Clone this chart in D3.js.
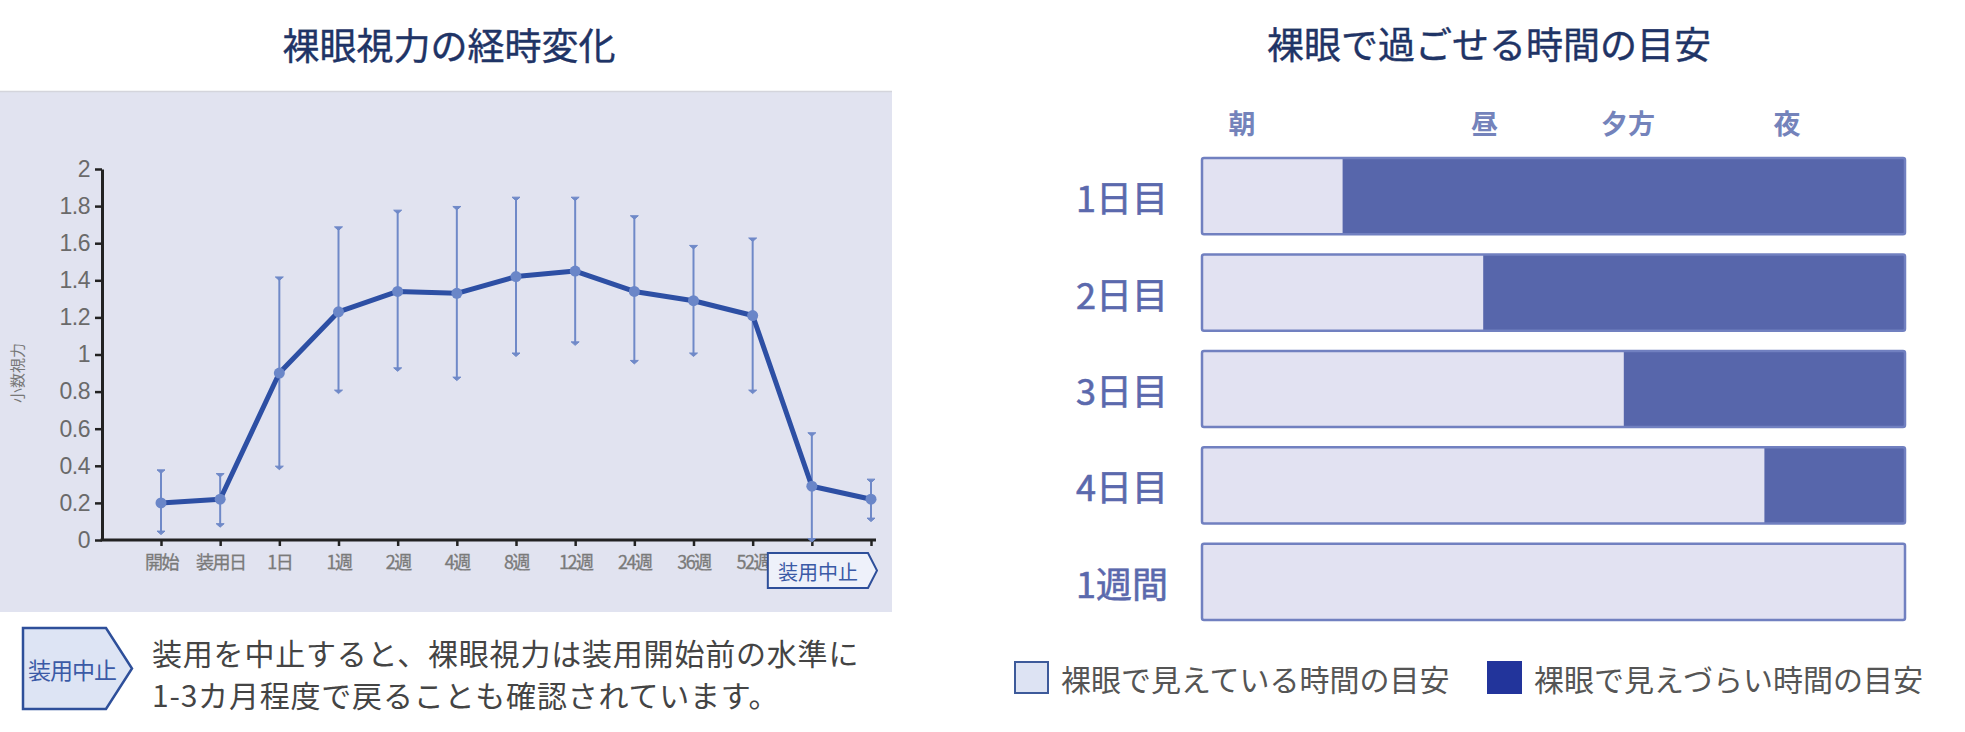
<!DOCTYPE html>
<html lang="ja">
<head>
<meta charset="utf-8">
<script src="https://cdn.jsdelivr.net/npm/d3@7"></script>
<style>
  body { margin: 0; background: #fff; }
  svg text { font-family: "Noto Sans CJK JP", "Noto Sans", sans-serif; }
</style>
</head>
<body>
<svg id="chart" width="1965" height="732"></svg>
<script>
// Left chart: uncorrected visual acuity over time (mean with range bars)
const vaCategories = ["開始", "装用日", "1日", "1週", "2週", "4週", "8週", "12週", "24週", "36週", "52週", "中止1", "中止2"];
const vaTickLabels = ["開始", "装用日", "1日", "1週", "2週", "4週", "8週", "12週", "24週", "36週", "52週", "", ""];
const vaMean  = [0.20, 0.22, 0.90, 1.23, 1.34, 1.33, 1.42, 1.45, 1.34, 1.29, 1.21, 0.29, 0.22];
const vaUpper = [0.37, 0.35, 1.41, 1.68, 1.77, 1.79, 1.84, 1.84, 1.74, 1.58, 1.62, 0.57, 0.32];
const vaLower = [0.04, 0.08, 0.39, 0.80, 0.92, 0.87, 1.00, 1.06, 0.96, 1.00, 0.80, 0.00, 0.11];
const vaYTicks = [0, 0.2, 0.4, 0.6, 0.8, 1, 1.2, 1.4, 1.6, 1.8, 2];
const stopLabel = "装用中止";
const noteLines = ["装用を中止すると、裸眼視力は装用開始前の水準に", "1-3カ月程度で戻ることも確認されています。"];

// Right chart: time you can spend with the naked eye
const dayLabels = ["1日目", "2日目", "3日目", "4日目", "1週間"];
const visibleShare = [0.2, 0.4, 0.6, 0.8, 1.0];
const timeLabels = ["朝", "昼", "夕方", "夜"];
const timeAt = [0.057, 0.402, 0.606, 0.832];
const legendLabels = ["裸眼で見えている時間の目安", "裸眼で見えづらい時間の目安"];

const svg = d3.select("#chart");

// ---------- left chart ----------
svg.append("text")
    .attr("x", 449).attr("y", 44)
    .attr("text-anchor", "middle").attr("dominant-baseline", "central")
    .attr("font-size", 37)
    .attr("fill", "#1f3466").attr("stroke", "#1f3466").attr("stroke-width", 0.4)
    .text("裸眼視力の経時変化");

svg.append("rect")
    .attr("x", 0).attr("y", 91)
    .attr("width", 892).attr("height", 521)
    .attr("fill", "#e1e3f0");
svg.append("line")
    .attr("x1", 0).attr("x2", 892).attr("y1", 91.5).attr("y2", 91.5)
    .attr("stroke", "#d4d5dc").attr("stroke-width", 1.5);

const x = d3.scalePoint()
    .domain(vaCategories)
    .range([161, 871]);

const y = d3.scaleLinear()
    .domain([0, 2])
    .range([540, 169]);

// Y axis
const yAxis = svg.append("g")
    .attr("transform", "translate(102,0)")
    .call(d3.axisLeft(y).tickValues(vaYTicks).tickSize(7).tickSizeOuter(0).tickPadding(5).tickFormat(d3.format("~g")));
yAxis.select(".domain").attr("stroke", "#222").attr("stroke-width", 3);
yAxis.selectAll(".tick line").attr("stroke", "#222").attr("stroke-width", 2.5);
yAxis.selectAll(".tick text")
    .attr("font-size", 23).attr("fill", "#6a6a6a")
    .attr("letter-spacing", -0.5)
    .style("font-family", "'Liberation Sans Narrow', 'Liberation Sans', Arial, sans-serif");

// X axis
const xAxis = svg.append("g")
    .attr("transform", `translate(0,${y(0)})`)
    .call(d3.axisBottom(x).tickSize(6).tickSizeOuter(0).tickPadding(10).tickFormat((d, i) => vaTickLabels[i]));
xAxis.select(".domain").remove();
xAxis.selectAll(".tick line").attr("stroke", "#222").attr("stroke-width", 2.5);
xAxis.selectAll(".tick text")
    .attr("font-size", 18).attr("fill", "#7a7a7a")
    .attr("stroke", "#7a7a7a").attr("stroke-width", 0.3)
    .attr("letter-spacing", -1.5);
svg.append("line")
    .attr("x1", 100.5).attr("x2", 876)
    .attr("y1", y(0)).attr("y2", y(0))
    .attr("stroke", "#222").attr("stroke-width", 3);

// Y axis title
svg.append("text")
    .attr("transform", `translate(16,${y(0.9)}) rotate(-90)`)
    .attr("text-anchor", "middle").attr("dominant-baseline", "central")
    .attr("font-size", 15).attr("fill", "#777")
    .text("小数視力");

// Error bars
const vaData = vaCategories.map((c, i) => ({cat: c, mean: vaMean[i], hi: vaUpper[i], lo: vaLower[i]}));
const bars = svg.append("g").attr("class", "errorbars");
bars.selectAll(".err")
    .data(vaData)
  .enter().append("line")
    .attr("x1", d => x(d.cat)).attr("x2", d => x(d.cat))
    .attr("y1", d => y(d.hi)).attr("y2", d => y(d.lo))
    .attr("stroke", "#6f89c8").attr("stroke-width", 2);
["hi", "lo"].forEach(k => {
  bars.selectAll(".cap-" + k)
      .data(vaData)
    .enter().append("path")
      .attr("d", d => {
        const cx = x(d.cat), cy = y(d[k]);
        return `M${cx - 4},${cy - 1.5}L${cx + 4},${cy - 1.5}L${cx},${cy + 2}Z`;
      })
      .attr("fill", "#6f89c8")
      .attr("stroke", "#6f89c8").attr("stroke-width", 1);
});

// Mean line
const line = d3.line()
    .x(d => x(d.cat))
    .y(d => y(d.mean));
svg.append("path")
    .datum(vaData)
    .attr("d", line)
    .attr("fill", "none")
    .attr("stroke", "#2d4fa4").attr("stroke-width", 5)
    .attr("stroke-linejoin", "round");

svg.selectAll(".pt")
    .data(vaData)
  .enter().append("circle")
    .attr("cx", d => x(d.cat)).attr("cy", d => y(d.mean))
    .attr("r", 5.5)
    .attr("fill", "#6a86c8");

// "装用中止" tag under the last two points
function tagShape(x0, y0, x1, y1, tip) {
  const ym = (y0 + y1) / 2;
  return `M${x0},${y0}L${x1 - tip},${y0}L${x1},${ym}L${x1 - tip},${y1}L${x0},${y1}Z`;
}
const tagX0 = x(vaCategories[11]) - 44, tagX1 = x(vaCategories[12]) + 6;
svg.append("path")
    .attr("d", tagShape(tagX0, 553, tagX1, 588, 9))
    .attr("fill", "#eef1fa")
    .attr("stroke", "#2e4f9a").attr("stroke-width", 2);
svg.append("text")
    .attr("x", (tagX0 + tagX1 - 9) / 2).attr("y", 571)
    .attr("text-anchor", "middle").attr("dominant-baseline", "central")
    .attr("font-size", 20).attr("fill", "#3b5aa6")
    .text(stopLabel);

// Note below the panel
svg.append("path")
    .attr("d", tagShape(23, 628, 132, 709, 26))
    .attr("fill", "#dde4f4")
    .attr("stroke", "#2e4f9a").attr("stroke-width", 2.5);
svg.append("text")
    .attr("x", 72).attr("y", 669)
    .attr("text-anchor", "middle").attr("dominant-baseline", "central")
    .attr("font-size", 23).attr("fill", "#3b5aa6")
    .attr("letter-spacing", -1)
    .text(stopLabel);
svg.selectAll(".note")
    .data(noteLines)
  .enter().append("text")
    .attr("x", 152)
    .attr("y", (d, i) => 652 + i * 42)
    .attr("dominant-baseline", "central")
    .attr("font-size", 30).attr("fill", "#444")
    .attr("letter-spacing", 0.8)
    .text(d => d);

// ---------- right chart ----------
svg.append("text")
    .attr("x", 1489).attr("y", 43)
    .attr("text-anchor", "middle").attr("dominant-baseline", "central")
    .attr("font-size", 37)
    .attr("fill", "#1f3466").attr("stroke", "#1f3466").attr("stroke-width", 0.4)
    .text("裸眼で過ごせる時間の目安");

const tx = d3.scaleLinear()
    .domain([0, 1])
    .range([1202, 1905]);

const ty = d3.scaleBand()
    .domain(dayLabels)
    .range([158, 620])
    .paddingInner(0.21)
    .paddingOuter(0);

svg.selectAll(".time-label")
    .data(timeLabels)
  .enter().append("text")
    .attr("x", (d, i) => tx(timeAt[i])).attr("y", 122)
    .attr("text-anchor", "middle").attr("dominant-baseline", "central")
    .attr("font-size", 27).attr("font-weight", "bold")
    .attr("fill", "#7483bb")
    .text(d => d);

const dayData = dayLabels.map((d, i) => ({day: d, share: visibleShare[i]}));
const rows = svg.selectAll(".row")
    .data(dayData)
  .enter().append("g")
    .attr("class", "row");

rows.append("rect")
    .attr("x", tx(0)).attr("y", d => ty(d.day))
    .attr("width", tx(1) - tx(0)).attr("height", ty.bandwidth())
    .attr("fill", "#e2e2f2");
rows.append("rect")
    .attr("x", d => tx(d.share)).attr("y", d => ty(d.day))
    .attr("width", d => tx(1) - tx(d.share)).attr("height", ty.bandwidth())
    .attr("fill", "#5766ab");
rows.append("rect")
    .attr("x", tx(0)).attr("y", d => ty(d.day))
    .attr("width", tx(1) - tx(0)).attr("height", ty.bandwidth())
    .attr("rx", 2)
    .attr("fill", "none")
    .attr("stroke", "#7180c0").attr("stroke-width", 2.5);

rows.append("text")
    .attr("x", 1168).attr("y", d => ty(d.day) + ty.bandwidth() / 2)
    .attr("text-anchor", "end").attr("dominant-baseline", "central")
    .attr("font-size", 36)
    .attr("fill", "#5b69ad").attr("stroke", "#5b69ad").attr("stroke-width", 0.6)
    .text(d => d.day);

// Legend
const legendFill = ["#dde3f3", "#22349b"];
const legendStroke = ["#3d5a9a", "#22349b"];
const legendX = [1015, 1488];
const legend = svg.selectAll(".legend")
    .data(legendLabels)
  .enter().append("g")
    .attr("transform", (d, i) => `translate(${legendX[i]},662)`);
legend.append("rect")
    .attr("width", 33).attr("height", 31)
    .attr("fill", (d, i) => legendFill[i])
    .attr("stroke", (d, i) => legendStroke[i]).attr("stroke-width", 2);
legend.append("text")
    .attr("x", 46).attr("y", 16)
    .attr("dominant-baseline", "central")
    .attr("font-size", 30).attr("fill", "#555")
    .text(d => d);
</script>
</body>
</html>
